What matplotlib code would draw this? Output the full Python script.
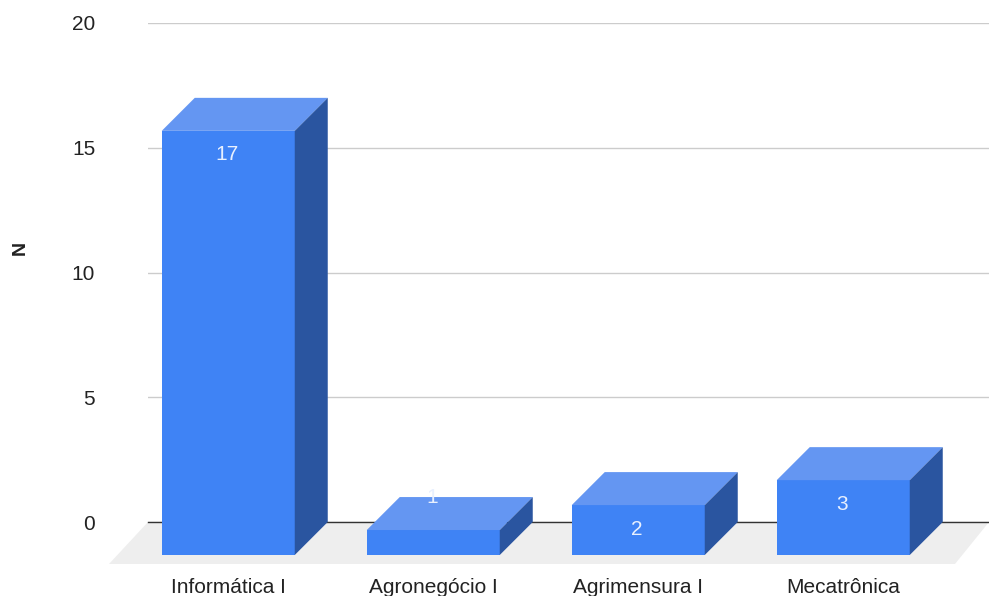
import matplotlib
matplotlib.use("Agg")
import matplotlib.pyplot as plt
from matplotlib.patches import Polygon

plt.rcParams['font.family'] = ['Liberation Sans', 'DejaVu Sans']

categories = ["Informática I", "Agronegócio I", "Agrimensura I", "Mecatrônica"]
values = [17, 1, 2, 3]
yticks = [0, 5, 10, 15, 20]

W, H = 989, 596
LEFT, RIGHT, TOP, BOTTOM = 148, 989, 23, 522
BAR_PX = 133
STEP_PX = 205
FIRST_PX = 228.25
DEPTH_PX = 33

FRONT = '#3f83f5'
TOPC = '#6496f2'
SIDE = '#2a55a0'
FLOOR = '#eeeeee'

fig = plt.figure(figsize=(W / 100, H / 100), dpi=100)
ax = fig.add_axes([LEFT / W, 1 - BOTTOM / H, (RIGHT - LEFT) / W, (BOTTOM - TOP) / H])
ax.set_xlim((LEFT - FIRST_PX) / STEP_PX, (RIGHT - FIRST_PX) / STEP_PX)
ax.set_ylim(0, 20)

px_y = (BOTTOM - TOP) / 20
dx = DEPTH_PX / STEP_PX
dy = DEPTH_PX / px_y
w = BAR_PX / STEP_PX
x = list(range(len(values)))

for s in ax.spines.values():
    s.set_visible(False)

# floor of the 3d box
x0, x1 = ax.get_xlim()
floor_dy = 42 / px_y
floor_dx = 39 / STEP_PX
ax.add_patch(Polygon([(x0, 0), (x1, 0), (x1 - floor_dx + 5 / STEP_PX, -floor_dy), (x0 - floor_dx, -floor_dy)],
                     closed=True, fc=FLOOR, ec='none', clip_on=False, zorder=1))

ax.set_yticks(yticks)
ax.grid(axis='y', color='#cccccc', lw=1)
ax.set_axisbelow(True)
ax.axhline(0, color='#333333', lw=1, zorder=2, clip_on=False)

for i, v in zip(x, values):
    l, r = i - w / 2, i + w / 2
    ax.bar(i, v, width=w, bottom=-dy, color=FRONT, lw=0, zorder=3, clip_on=False)
    top = v - dy
    ax.add_patch(Polygon([(l, top), (r, top), (r + dx, v), (l + dx, v)],
                         closed=True, fc=TOPC, ec='none', zorder=3, clip_on=False))
    ax.add_patch(Polygon([(r, -dy), (r + dx, 0), (r + dx, v), (r, top)],
                         closed=True, fc=SIDE, ec='none', zorder=3, clip_on=False))
    # short bars get the label pushed up onto the top face
    off = -24 if v > 1 else 33
    ax.annotate(str(v), (i - 1 / STEP_PX, top), xytext=(0, off * 0.72), textcoords='offset points',
                ha='center', va='center', color='#e8f0fe', fontsize=15, zorder=5,
                annotation_clip=False)

ax.set_xticks(x)
ax.set_xticklabels(categories, fontsize=15, color='#222222')
ax.tick_params(axis='x', length=0, pad=40)
ax.tick_params(axis='y', length=0, pad=38, labelsize=15, labelcolor='#222222')

ax.set_ylabel("N", fontsize=14, fontweight='bold', color='#222222')
ax.yaxis.set_label_coords((29 - LEFT) / (RIGHT - LEFT), (BOTTOM - 248) / (BOTTOM - TOP))

fig.savefig("out.png", dpi=100)
